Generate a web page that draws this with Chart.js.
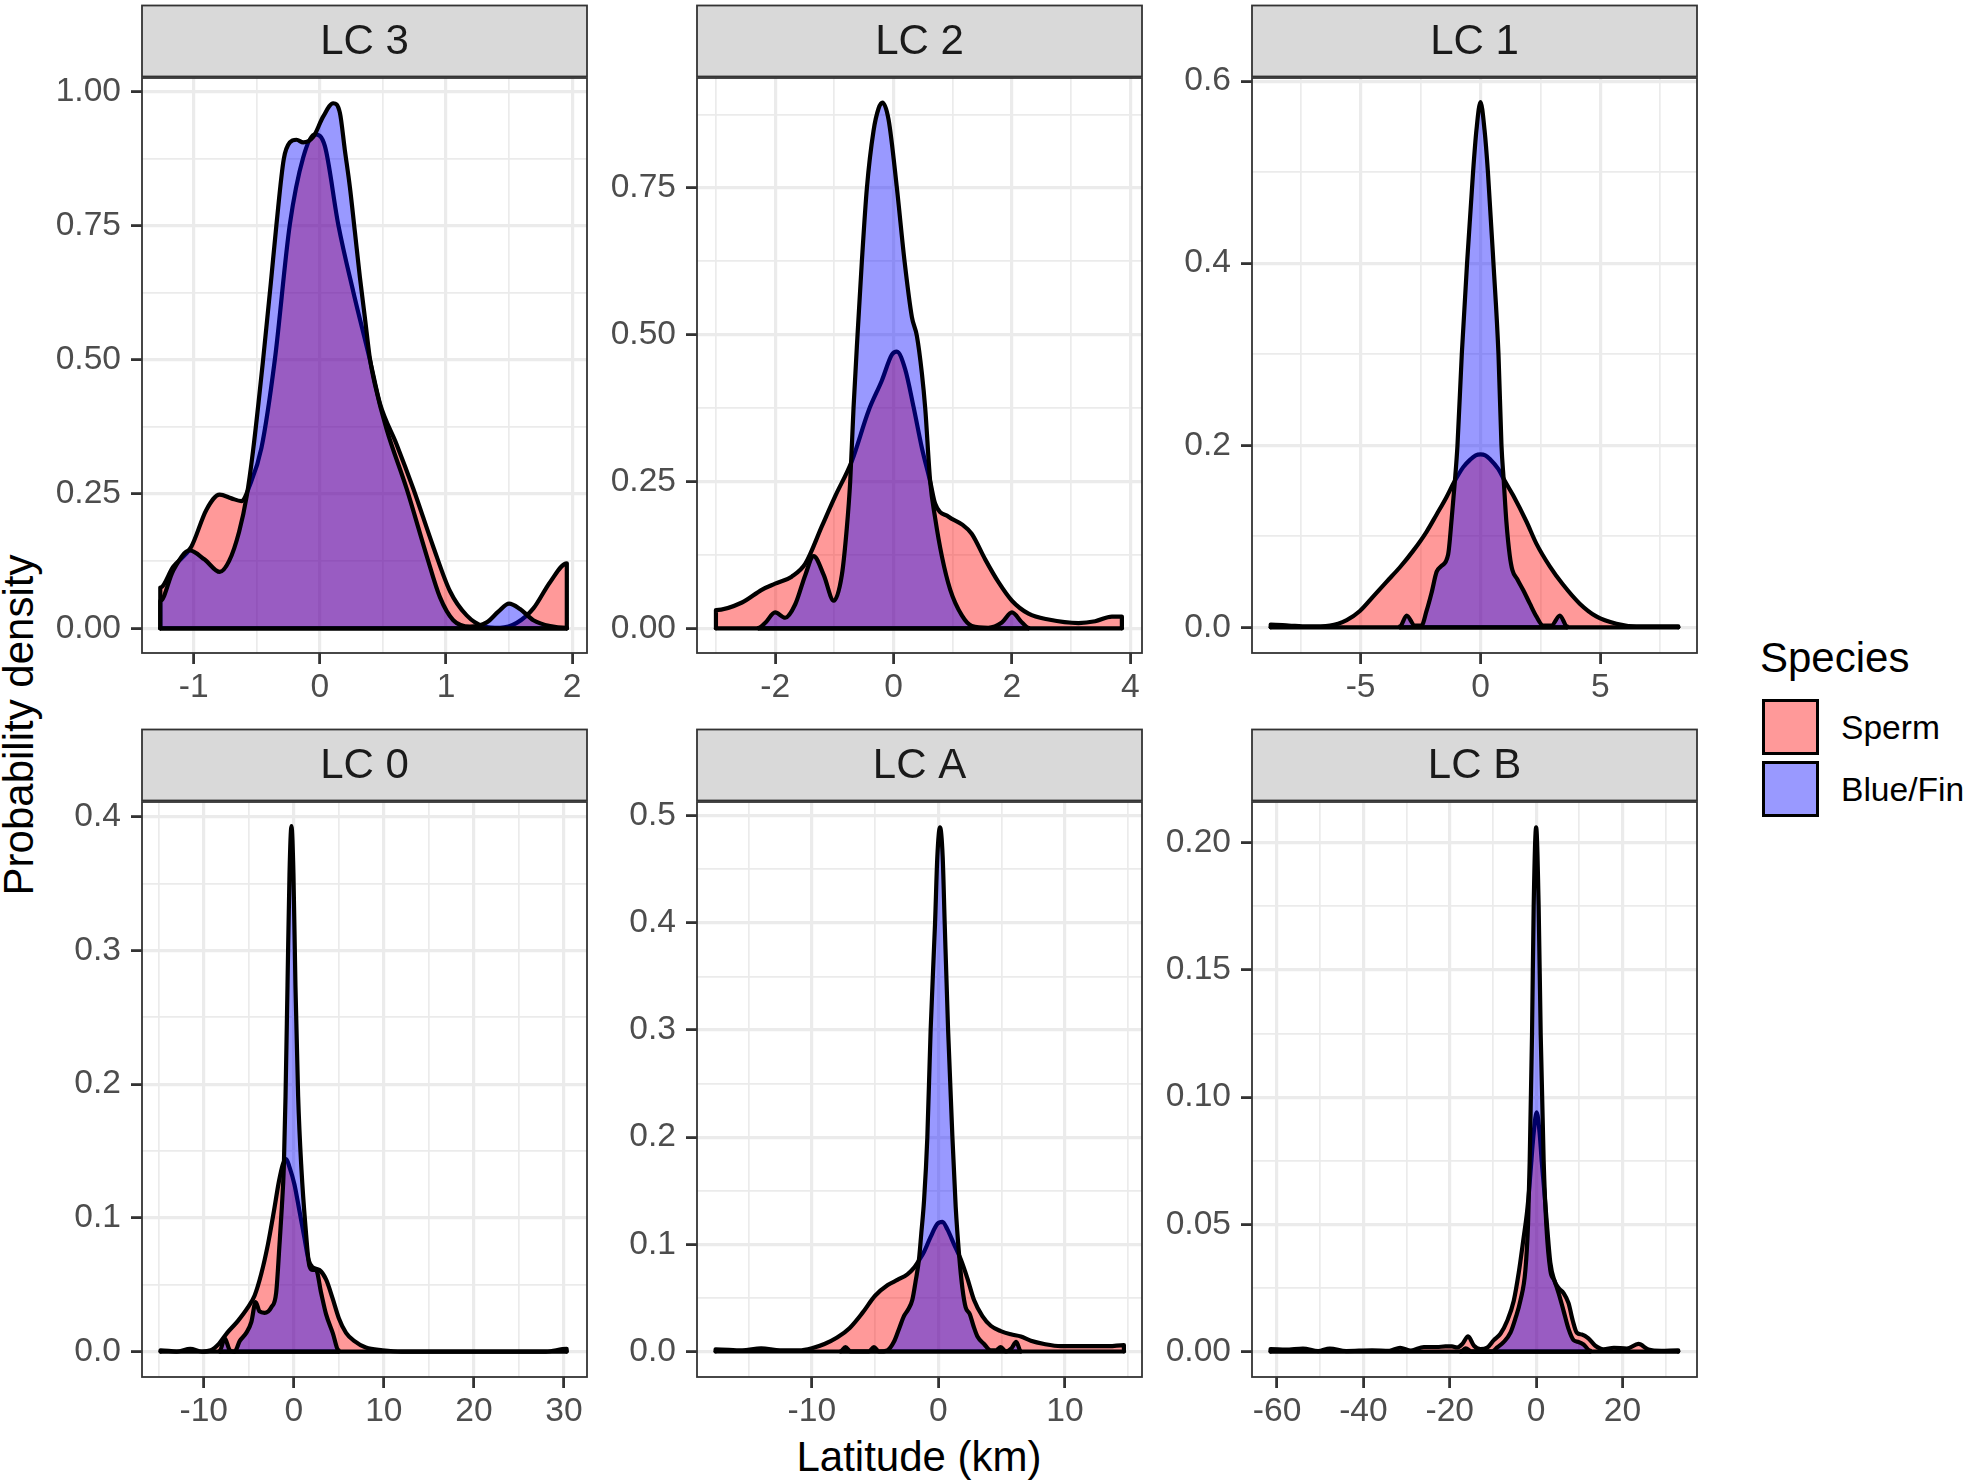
<!DOCTYPE html>
<html>
<head>
<meta charset="utf-8">
<title>Probability density by location class</title>
<script src="https://cdn.jsdelivr.net/npm/chart.js@4.4.1/dist/chart.umd.min.js"></script>
<style>
  body { margin: 0; background: #fff; width: 1967px; height: 1483px; position: relative; overflow: hidden;
         font-family: "Liberation Sans", Arial, Helvetica, sans-serif; }
  canvas { position: absolute; }
  .lbl { position: absolute; white-space: nowrap; line-height: 1; color: #000; }
  .key { position: absolute; width: 57px; height: 56px; box-sizing: border-box; border: 3px solid #000; }
</style>
</head>
<body>
<div class="lbl" id="yTitle" style="left:-181px; top:704px; width:400px; height:42px; font-size:42px; text-align:center; transform:rotate(-90deg);">Probability density</div>
<div class="lbl" id="xTitle" style="left:619px; top:1436px; width:600px; font-size:42px; text-align:center;">Latitude (km)</div>
<div id="legend"></div>

<script>
// Panel titles and series names
const panelTitles = ['LC 3', 'LC 2', 'LC 1', 'LC 0', 'LC A', 'LC B'];
const seriesNames = ['Sperm', 'Blue/Fin'];

// LC 3
const lc3SpermX = [-1.265, -1.164, -1.019, -0.899, -0.794, -0.701, -0.622, -0.556, -0.463, -0.357, -0.238, -0.132, -0.040, 0.040, 0.146, 0.265, 0.397, 0.476, 0.608, 0.741, 0.899, 1.032, 1.164, 1.296, 1.429, 1.561, 1.693, 1.825, 1.958];
const lc3SpermY = [0.076, 0.114, 0.152, 0.221, 0.249, 0.242, 0.237, 0.266, 0.336, 0.500, 0.752, 0.877, 0.920, 0.898, 0.752, 0.627, 0.500, 0.419, 0.343, 0.260, 0.152, 0.069, 0.024, 0.004, 0.001, 0.010, 0.037, 0.086, 0.121];
const lc3BlueX = [-1.265, -1.164, -1.032, -0.913, -0.794, -0.720, -0.640, -0.580, -0.530, -0.450, -0.390, -0.344, -0.286, -0.238, -0.185, -0.132, -0.053, 0.026, 0.106, 0.159, 0.198, 0.238, 0.278, 0.317, 0.357, 0.397, 0.437, 0.529, 0.688, 0.847, 0.952, 1.058, 1.190, 1.323, 1.415, 1.500, 1.587, 1.693, 1.825, 1.958];
const lc3BlueY = [0.051, 0.107, 0.145, 0.128, 0.105, 0.125, 0.180, 0.246, 0.330, 0.500, 0.640, 0.752, 0.874, 0.905, 0.910, 0.905, 0.915, 0.953, 0.978, 0.960, 0.891, 0.822, 0.738, 0.655, 0.579, 0.502, 0.454, 0.371, 0.260, 0.135, 0.058, 0.015, 0.003, 0.011, 0.031, 0.046, 0.036, 0.015, 0.004, 0.001];
const lc3XTicks = [-1, 0, 1, 2];
const lc3YTicks = [0, 0.25, 0.5, 0.75, 1];
const lc3YLabels = ['0.00', '0.25', '0.50', '0.75', '1.00'];

// LC 2
const lc2SpermX = [-3.00, -2.56, -2.22, -2.00, -1.72, -1.49, -1.21, -0.985, -0.704, -0.420, -0.197, -0.028, 0.056, 0.197, 0.338, 0.479, 0.619, 0.704, 0.930, 1.154, 1.320, 1.550, 1.770, 2.000, 2.280, 2.618, 3.125, 3.406, 3.688, 3.857];
const lc2SpermY = [0.031, 0.044, 0.066, 0.076, 0.088, 0.110, 0.174, 0.225, 0.285, 0.371, 0.422, 0.466, 0.471, 0.441, 0.377, 0.307, 0.250, 0.212, 0.190, 0.177, 0.161, 0.117, 0.079, 0.047, 0.025, 0.015, 0.009, 0.012, 0.020, 0.020];
const lc2BlueX = [-2.28, -2.17, -2.00, -1.83, -1.66, -1.49, -1.35, -1.18, -1.01, -0.873, -0.790, -0.732, -0.676, -0.608, -0.535, -0.450, -0.338, -0.253, -0.186, -0.084, 0.056, 0.186, 0.310, 0.394, 0.479, 0.535, 0.619, 0.704, 0.816, 0.957, 1.154, 1.323, 1.600, 1.830, 2.000, 2.170, 2.280];
const lc2BlueY = [0.001, 0.009, 0.027, 0.018, 0.041, 0.091, 0.123, 0.091, 0.047, 0.091, 0.170, 0.250, 0.375, 0.500, 0.625, 0.750, 0.847, 0.885, 0.895, 0.866, 0.750, 0.625, 0.530, 0.498, 0.434, 0.375, 0.250, 0.187, 0.123, 0.066, 0.022, 0.004, 0.001, 0.010, 0.027, 0.010, 0.001];
const lc2XTicks = [-2, 0, 2, 4];
const lc2YTicks = [0, 0.25, 0.5, 0.75];
const lc2YLabels = ['0.00', '0.25', '0.50', '0.75'];

// LC 1
const lc1SpermX = [-8.75, -8.0, -7.2, -6.28, -5.58, -5.03, -4.47, -3.92, -3.36, -2.81, -2.25, -1.83, -1.42, -1.11, -0.72, -0.44, -0.20, 0.00, 0.20, 0.39, 0.74, 1.01, 1.36, 1.92, 2.33, 2.89, 3.44, 4.14, 4.83, 5.67, 6.5, 7.4, 8.25];
const lc1SpermY = [0.003, 0.002, 0.001, 0.002, 0.008, 0.018, 0.034, 0.050, 0.066, 0.084, 0.105, 0.124, 0.143, 0.159, 0.176, 0.184, 0.189, 0.190, 0.189, 0.185, 0.174, 0.161, 0.145, 0.116, 0.092, 0.067, 0.047, 0.026, 0.012, 0.004, 0.001, 0.001, 0.001];
const lc1BlueX = [-3.36, -3.08, -2.74, -2.46, -2.25, -2.04, -1.83, -1.65, -1.35, -1.20, -1.07, -0.96, -0.78, -0.56, -0.31, -0.17, 0.00, 0.17, 0.31, 0.54, 0.75, 0.875, 0.97, 1.08, 1.22, 1.33, 1.53, 1.78, 2.06, 2.33, 2.61, 2.96, 3.31, 3.61];
const lc1BlueY = [0.001, 0.013, 0.002, 0.002, 0.018, 0.038, 0.061, 0.067, 0.080, 0.120, 0.160, 0.200, 0.300, 0.400, 0.500, 0.546, 0.577, 0.546, 0.500, 0.400, 0.300, 0.200, 0.161, 0.116, 0.079, 0.063, 0.053, 0.041, 0.026, 0.012, 0.002, 0.002, 0.013, 0.001];
const lc1XTicks = [-5, 0, 5];
const lc1YTicks = [0, 0.2, 0.4, 0.6];
const lc1YLabels = ['0.0', '0.2', '0.4', '0.6'];

// LC 0
const lc0SpermX = [-14.8, -13.0, -11.5, -10.2, -9.2, -8.3, -7.4, -6.2, -5.1, -4.35, -3.62, -2.88, -2.21, -1.66, -1.22, -0.85, -0.48, 0.07, 0.63, 1.18, 1.66, 2.1, 2.84, 3.58, 4.3, 5.0, 5.8, 6.7, 8.0, 9.85, 12.0, 20.0, 28.0, 30.3];
const lc0SpermY = [0.001, 0.000, 0.002, 0.000, 0.001, 0.006, 0.014, 0.023, 0.033, 0.042, 0.058, 0.080, 0.105, 0.127, 0.140, 0.144, 0.138, 0.125, 0.105, 0.085, 0.068, 0.063, 0.061, 0.054, 0.040, 0.025, 0.014, 0.008, 0.003, 0.001, 0.000, 0.000, 0.000, 0.002];
const lc0BlueX = [-8.2, -7.68, -7.1, -6.57, -6.0, -5.28, -4.72, -4.24, -3.8, -3.25, -2.51, -1.96, -1.59, -1.33, -1.11, -0.92, -0.70, -0.48, -0.26, -0.04, 0.18, 0.48, 0.85, 1.29, 1.73, 2.1, 2.47, 3.03, 3.58, 4.32, 4.98];
const lc0BlueY = [0.001, 0.010, 0.001, 0.000, 0.008, 0.014, 0.022, 0.037, 0.030, 0.029, 0.033, 0.044, 0.080, 0.108, 0.138, 0.191, 0.274, 0.357, 0.393, 0.357, 0.274, 0.191, 0.136, 0.094, 0.064, 0.061, 0.061, 0.044, 0.028, 0.014, 0.001];
const lc0XTicks = [-10, 0, 10, 20, 30];
const lc0YTicks = [0, 0.1, 0.2, 0.3, 0.4];
const lc0YLabels = ['0.0', '0.1', '0.2', '0.3', '0.4'];

// LC A
const lcASpermX = [-17.6, -15.5, -14.0, -12.5, -11.0, -10.0, -9.0, -8.0, -7.0, -6.0, -5.0, -4.0, -3.2, -2.45, -1.93, -1.53, -1.13, -0.61, -0.08, 0.32, 0.71, 1.24, 1.77, 2.30, 2.82, 3.48, 4.14, 4.93, 5.73, 6.52, 7.31, 8.36, 9.68, 11.5, 13.5, 14.66];
const lcASpermY = [0.002, 0.001, 0.003, 0.001, 0.001, 0.003, 0.007, 0.013, 0.022, 0.036, 0.052, 0.062, 0.067, 0.072, 0.078, 0.085, 0.093, 0.107, 0.119, 0.121, 0.114, 0.100, 0.086, 0.068, 0.048, 0.033, 0.024, 0.019, 0.016, 0.014, 0.010, 0.007, 0.005, 0.005, 0.005, 0.006];
const lcABlueX = [-7.73, -7.34, -6.94, -5.49, -5.09, -4.70, -4.04, -3.51, -3.11, -2.72, -2.40, -2.06, -1.79, -1.53, -1.35, -1.13, -0.87, -0.61, -0.26, -0.08, 0.13, 0.34, 0.50, 0.77, 1.11, 1.37, 1.64, 1.90, 2.16, 2.48, 2.77, 3.09, 3.61, 4.14, 4.54, 4.93, 5.33, 5.78, 6.15, 6.52];
const lcABlueY = [0.000, 0.004, 0.000, 0.000, 0.004, 0.000, 0.001, 0.009, 0.021, 0.033, 0.039, 0.048, 0.066, 0.086, 0.110, 0.141, 0.200, 0.300, 0.400, 0.462, 0.489, 0.462, 0.400, 0.300, 0.200, 0.135, 0.090, 0.059, 0.041, 0.035, 0.024, 0.014, 0.007, 0.001, 0.001, 0.004, 0.000, 0.003, 0.009, 0.000];
const lcAXTicks = [-10, 0, 10];
const lcAYTicks = [0, 0.1, 0.2, 0.3, 0.4, 0.5];
const lcAYLabels = ['0.0', '0.1', '0.2', '0.3', '0.4', '0.5'];

// LC B
const lcBSpermX = [-61.5, -58.0, -54.0, -50.5, -47.8, -44.0, -38.0, -34.0, -31.5, -29.0, -26.0, -23.0, -21.0, -19.5, -18.3, -17.1, -15.75, -14.4, -12.9, -11.3, -9.8, -8.26, -6.72, -5.18, -4.03, -2.88, -2.1, -1.65, -1.1, -0.57, 0.12, 0.8, 1.28, 1.89, 2.5, 3.28, 4.2, 5.2, 6.35, 7.5, 8.5, 9.43, 10.6, 12.1, 13.7, 15.6, 18.0, 21.0, 23.7, 26.0, 29.0, 32.9];
const lcBSpermY = [0.0010, 0.0008, 0.0012, 0.0002, 0.0012, 0.0002, 0.0005, 0.0003, 0.0015, 0.0004, 0.0018, 0.0018, 0.0020, 0.0020, 0.0016, 0.0030, 0.0060, 0.0023, 0.0010, 0.0016, 0.0045, 0.0070, 0.0120, 0.0200, 0.0310, 0.0450, 0.0550, 0.0630, 0.0750, 0.0860, 0.0940, 0.0860, 0.0750, 0.0630, 0.0500, 0.0350, 0.0280, 0.0250, 0.0230, 0.0190, 0.0120, 0.0074, 0.0067, 0.0052, 0.0023, 0.0009, 0.0015, 0.0012, 0.0030, 0.0008, 0.0003, 0.0005];
const lcBBlueX = [-17.5, -16.3, -15.0, -10.2, -9.03, -7.49, -5.95, -4.8, -3.65, -2.49, -1.88, -1.49, -0.95, -0.57, 0.0, 0.58, 1.05, 1.74, 2.35, 3.28, 4.2, 5.2, 6.35, 7.5, 8.66, 9.8, 10.97, 12.5];
const lcBBlueY = [0.0000, 0.0013, 0.0000, 0.0000, 0.0016, 0.0038, 0.0074, 0.0130, 0.0200, 0.0320, 0.0500, 0.0750, 0.1250, 0.1750, 0.2060, 0.1750, 0.1250, 0.0750, 0.0500, 0.0320, 0.0280, 0.0230, 0.0160, 0.0089, 0.0045, 0.0038, 0.0028, 0.0004];
const lcBXTicks = [-60, -40, -20, 0, 20];
const lcBYTicks = [0, 0.05, 0.1, 0.15, 0.2];
const lcBYLabels = ['0.00', '0.05', '0.10', '0.15', '0.20'];

// Panel layout on the page
const colLeft = [142, 697, 1252];
const rowTop = [78, 802];
const PANEL_W = 445, PANEL_H = 575;
const AXIS_W = 140, TOP_PAD = 80, RIGHT_PAD = 10, XAXIS_H = 70;
const STRIP_H = 71, STRIP_GAP = 1.5;

const FONT = '"Liberation Sans", Arial, Helvetica, sans-serif';
Chart.defaults.font.family = FONT;

const panels = [
  { title: panelTitles[0], sx: lc3SpermX, sy: lc3SpermY, bx: lc3BlueX, by: lc3BlueY,
    xTicks: lc3XTicks, yTicks: lc3YTicks, yLabels: lc3YLabels,
    xMin: -1.41, xMax: 2.118, yMin: -0.046, yMax: 1.025, col: 0, row: 0 },
  { title: panelTitles[1], sx: lc2SpermX, sy: lc2SpermY, bx: lc2BlueX, by: lc2BlueY,
    xTicks: lc2XTicks, yTicks: lc2YTicks, yLabels: lc2YLabels,
    xMin: -3.32, xMax: 4.197, yMin: -0.042, yMax: 0.937, col: 1, row: 0 },
  { title: panelTitles[2], sx: lc1SpermX, sy: lc1SpermY, bx: lc1BlueX, by: lc1BlueY,
    xTicks: lc1XTicks, yTicks: lc1YTicks, yLabels: lc1YLabels,
    xMin: -9.53, xMax: 9.03, yMin: -0.0282, yMax: 0.6035, col: 2, row: 0 },
  { title: panelTitles[3], sx: lc0SpermX, sy: lc0SpermY, bx: lc0BlueX, by: lc0BlueY,
    xTicks: lc0XTicks, yTicks: lc0YTicks, yLabels: lc0YLabels,
    xMin: -16.86, xMax: 32.56, yMin: -0.019, yMax: 0.411, col: 0, row: 1 },
  { title: panelTitles[4], sx: lcASpermX, sy: lcASpermY, bx: lcABlueX, by: lcABlueY,
    xTicks: lcAXTicks, yTicks: lcAYTicks, yLabels: lcAYLabels,
    xMin: -19.07, xMax: 16.09, yMin: -0.0238, yMax: 0.5127, col: 1, row: 1 },
  { title: panelTitles[5], sx: lcBSpermX, sy: lcBSpermY, bx: lcBBlueX, by: lcBBlueY,
    xTicks: lcBXTicks, yTicks: lcBYTicks, yLabels: lcBYLabels,
    xMin: -65.8, xMax: 37.25, yMin: -0.0100, yMax: 0.216, col: 2, row: 1 }
];

// Density polygon: drop to zero at both ends like geom_density
function densityPoints(xs, ys) {
  const pts = xs.map((x, i) => ({ x: x, y: ys[i] }));
  return [{ x: xs[0], y: 0 }, ...pts, { x: xs[xs.length - 1], y: 0 }];
}

// Closing line along y = 0 under each density
function baselinePoints(xs) {
  return [{ x: xs[0], y: 0 }, { x: xs[xs.length - 1], y: 0 }];
}

// Major ticks plus the minor grid lines halfway between them
function allTicks(min, max, majors) {
  const half = (majors[1] - majors[0]) / 2;
  const out = [];
  for (let k = Math.ceil(min / half - 1e-9); k * half <= max + 1e-9; k++) {
    out.push(Math.round(k * half * 1e6) / 1e6);
  }
  return out;
}

function isMajor(v, majors) {
  return majors.some(m => Math.abs(m - v) < 1e-6);
}

function axisOptions(min, max, majors, labels, horizontal) {
  const ticksAll = allTicks(min, max, majors);
  return {
    type: 'linear',
    min: min,
    max: max,
    afterBuildTicks: scale => { scale.ticks = ticksAll.map(v => ({ value: v })); },
    afterFit: scale => {
      if (horizontal) scale.height = XAXIS_H; else scale.width = AXIS_W;
    },
    border: { display: false },
    grid: {
      color: '#EBEBEB',
      lineWidth: c => (c.tick && isMajor(c.tick.value, majors)) ? 3.2 : 1.7,
      drawTicks: true,
      tickLength: 11,
      tickWidth: 2.8,
      tickColor: c => (c.tick && isMajor(c.tick.value, majors)) ? '#333333' : 'rgba(0,0,0,0)'
    },
    ticks: {
      autoSkip: false,
      maxRotation: 0,
      padding: horizontal ? 4 : 10,
      color: '#4D4D4D',
      font: { size: 33.6 },
      callback: value => {
        const idx = majors.findIndex(m => Math.abs(m - value) < 1e-6);
        if (idx < 0) return '';
        return labels ? labels[idx] : String(majors[idx]);
      }
    }
  };
}

// Grey facet strip on top and the dark panel frame
const facetDecor = {
  id: 'facetDecor',
  afterDraw(chart, args, opts) {
    const { ctx, chartArea: a } = chart;
    const top = a.top - STRIP_GAP - STRIP_H;
    ctx.save();
    ctx.fillStyle = '#D9D9D9';
    ctx.fillRect(a.left, top, a.right - a.left, STRIP_H);
    ctx.strokeStyle = '#333333';
    ctx.lineWidth = 1.8;
    ctx.strokeRect(a.left, top, a.right - a.left, STRIP_H);
    ctx.fillStyle = '#1A1A1A';
    ctx.font = '42px ' + FONT;
    ctx.textAlign = 'center';
    ctx.textBaseline = 'middle';
    ctx.fillText(opts.title, (a.left + a.right) / 2, top + STRIP_H / 2 + 1);
    ctx.strokeRect(a.left, a.top, a.right - a.left, a.bottom - a.top);
    ctx.restore();
  }
};

const spermFill = 'rgba(255, 0, 0, 0.4)';
const blueFill = 'rgba(0, 0, 255, 0.4)';

function lineStyle(order) {
  return {
    borderColor: '#000000',
    borderWidth: 4.2,
    borderJoinStyle: 'round',
    borderCapStyle: 'round',
    pointRadius: 0,
    pointHoverRadius: 0,
    cubicInterpolationMode: 'monotone',
    order: order
  };
}

panels.forEach(p => {
  const cv = document.createElement('canvas');
  cv.width = AXIS_W + PANEL_W + RIGHT_PAD;
  cv.height = TOP_PAD + PANEL_H + XAXIS_H;
  cv.style.left = (colLeft[p.col] - AXIS_W) + 'px';
  cv.style.top = (rowTop[p.row] - TOP_PAD) + 'px';
  document.body.appendChild(cv);

  new Chart(cv, {
    type: 'line',
    data: {
      datasets: [
        Object.assign({ label: seriesNames[0], data: densityPoints(p.sx, p.sy),
          backgroundColor: spermFill, fill: 'origin' }, lineStyle(4)),
        Object.assign({ label: seriesNames[0] + ' base', data: baselinePoints(p.sx),
          fill: false }, lineStyle(3)),
        Object.assign({ label: seriesNames[1], data: densityPoints(p.bx, p.by),
          backgroundColor: blueFill, fill: 'origin' }, lineStyle(2)),
        Object.assign({ label: seriesNames[1] + ' base', data: baselinePoints(p.bx),
          fill: false }, lineStyle(1))
      ]
    },
    options: {
      responsive: false,
      animation: false,
      devicePixelRatio: 1,
      events: [],
      layout: { padding: { left: 0, right: RIGHT_PAD, top: TOP_PAD, bottom: 0 } },
      scales: {
        x: axisOptions(p.xMin, p.xMax, p.xTicks, null, true),
        y: axisOptions(p.yMin, p.yMax, p.yTicks, p.yLabels, false)
      },
      plugins: {
        legend: { display: false },
        tooltip: { enabled: false },
        facetDecor: { title: p.title }
      }
    },
    plugins: [facetDecor]
  });
});

// Legend on the right
const legend = document.getElementById('legend');
const keyColors = ['#FF9999', '#9999FF'];
const keyTops = [699, 761];
legend.innerHTML = '<div class="lbl" style="left:1760px; top:637px; font-size:42px;">Species</div>' +
  seriesNames.map((name, i) =>
    '<div class="key" style="left:1762px; top:' + keyTops[i] + 'px; background:' + keyColors[i] + ';"></div>' +
    '<div class="lbl" style="left:1841px; top:' + (keyTops[i] + 12) + 'px; font-size:33.6px;">' + name + '</div>'
  ).join('');
</script>
</body>
</html>
